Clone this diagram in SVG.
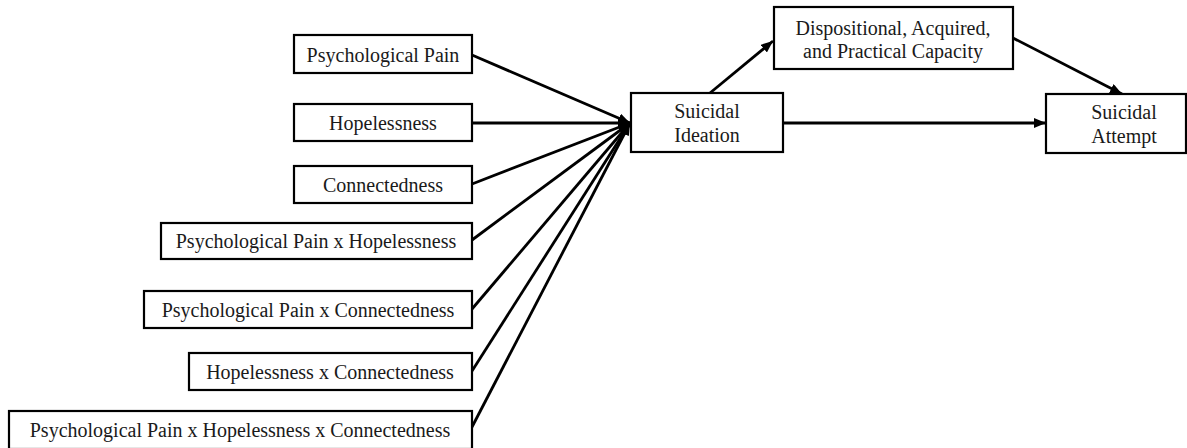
<svg xmlns="http://www.w3.org/2000/svg" width="1187" height="448" viewBox="0 0 1187 448">
<defs>
<style>
.box{fill:#fff;stroke:#000;stroke-width:2.2}
.lbl{font-family:"Liberation Serif","Times New Roman",serif;font-size:20px;fill:#1a1a1a;text-anchor:middle}
.edge{stroke:#000;stroke-width:2.8;fill:none;marker-end:url(#ah)}
</style>
<marker id="ah" markerUnits="userSpaceOnUse" markerWidth="12" markerHeight="10" refX="12" refY="5" orient="auto">
<path d="M0,0 L12,5 L0,10 z" fill="#000"/>
</marker>
</defs>
<rect width="1187" height="448" fill="#fff"/>
<g id="connectors">
<line class="edge" x1="472" y1="55" x2="630" y2="123"/>
<line class="edge" x1="472" y1="123" x2="630" y2="123"/>
<line class="edge" x1="472" y1="184" x2="630" y2="123"/>
<line class="edge" x1="472" y1="240" x2="630" y2="123"/>
<line class="edge" x1="472" y1="309" x2="630" y2="123"/>
<line class="edge" x1="472" y1="371" x2="630" y2="123"/>
<line class="edge" x1="472" y1="427" x2="630" y2="123"/>
<line class="edge" x1="710" y1="93" x2="773" y2="41"/>
<line class="edge" x1="1013" y1="38" x2="1122" y2="94"/>
<line class="edge" x1="783" y1="123" x2="1046" y2="123"/>
</g>
<g id="n-pain">
<rect class="box" x="294" y="35" width="178" height="38"/>
<text class="lbl" x="383" y="62">Psychological Pain</text>
</g>
<g id="n-hope">
<rect class="box" x="294" y="104" width="178" height="37"/>
<text class="lbl" x="383" y="130">Hopelessness</text>
</g>
<g id="n-conn">
<rect class="box" x="294" y="166" width="178" height="37"/>
<text class="lbl" x="383" y="192">Connectedness</text>
</g>
<g id="n-pxh">
<rect class="box" x="161" y="223" width="311" height="36"/>
<text class="lbl" x="316" y="248">Psychological Pain x Hopelessness</text>
</g>
<g id="n-pxc">
<rect class="box" x="144" y="291" width="328" height="37"/>
<text class="lbl" x="308" y="317">Psychological Pain x Connectedness</text>
</g>
<g id="n-hxc">
<rect class="box" x="189" y="353" width="283" height="37"/>
<text class="lbl" x="330" y="379">Hopelessness x Connectedness</text>
</g>
<g id="n-pxhxc">
<rect class="box" x="9" y="411" width="463" height="38"/>
<text class="lbl" x="240" y="437">Psychological Pain x Hopelessness x Connectedness</text>
</g>
<g id="n-ideation">
<rect class="box" x="631" y="93" width="152" height="59"/>
<text class="lbl" x="707" y="118">Suicidal</text>
<text class="lbl" x="707" y="142">Ideation</text>
</g>
<g id="n-capacity">
<rect class="box" x="774" y="7" width="239" height="62"/>
<text class="lbl" x="893" y="35">Dispositional, Acquired,</text>
<text class="lbl" x="893" y="58">and Practical Capacity</text>
</g>
<g id="n-attempt">
<rect class="box" x="1046" y="94" width="140" height="59"/>
<text class="lbl" x="1124" y="119">Suicidal</text>
<text class="lbl" x="1124" y="143">Attempt</text>
</g>
</svg>
